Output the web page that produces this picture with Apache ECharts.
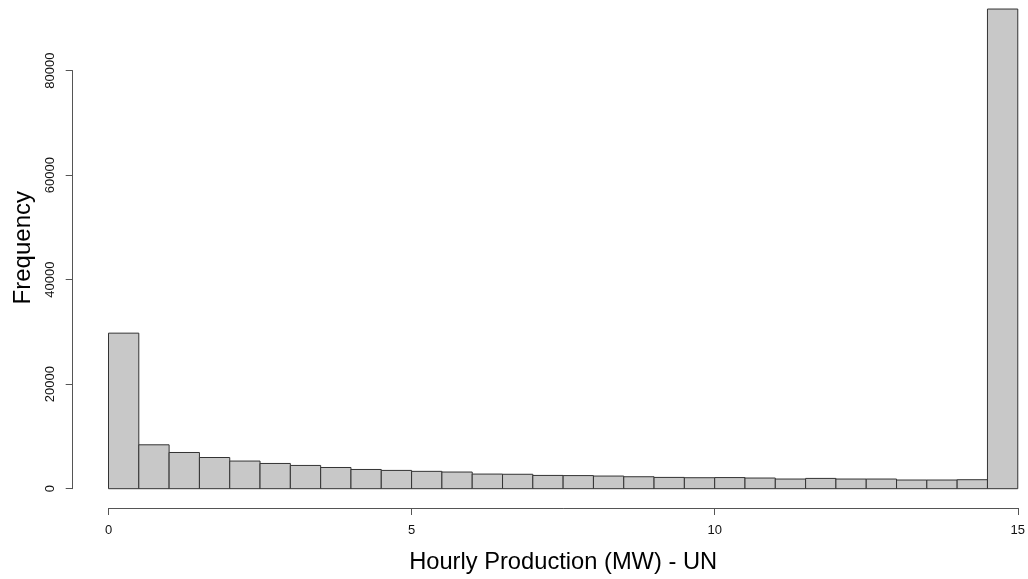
<!DOCTYPE html>
<html>
<head>
<meta charset="utf-8">
<title>Hourly Production (MW) - UN</title>
<script src="https://cdn.jsdelivr.net/npm/echarts@6/dist/echarts.min.js"></script>
<style>
  html, body { margin: 0; padding: 0; background: #ffffff; overflow: hidden; }
  #chart { width: 1028px; height: 579px; }
</style>
</head>
<body>
<div id="chart"></div>
<script>
// Histogram bin edges (MW) and counts per bin
const breaks = [0, 0.5, 1, 1.5, 2, 2.5, 3, 3.5, 4, 4.5, 5, 5.5, 6, 6.5, 7, 7.5,
                8, 8.5, 9, 9.5, 10, 10.5, 11, 11.5, 12, 12.5, 13, 13.5, 14, 14.5, 15];
const counts = [29770, 8400, 6930, 5970, 5290, 4830, 4450, 4060, 3680, 3500,
                3320, 3190, 2800, 2760, 2540, 2510, 2420, 2290, 2160, 2100,
                2130, 2040, 1850, 1970, 1850, 1850, 1660, 1660, 1720, 91800];
const xTicks = [0, 5, 10, 15];
const yTicks = [0, 20000, 40000, 60000, 80000];

const xTitle = 'Hourly Production (MW) - UN';
const yTitle = 'Frequency';

// [start, end, count] per bin for the custom rect series
const bins = counts.map((c, i) => [breaks[i], breaks[i + 1], c]);

const FONT = '"Liberation Sans", Arial, Helvetica, sans-serif';
const AXIS_COLOR = '#555555';

const chart = echarts.init(document.getElementById('chart'), null, { renderer: 'canvas' });

chart.setOption({
  animation: false,
  backgroundColor: '#ffffff',
  textStyle: { fontFamily: FONT, color: '#000000' },
  grid: { left: 108.5, right: 7.3, top: 70.7, bottom: 89, containLabel: false },
  xAxis: {
    type: 'value',
    min: xTicks[0],
    max: xTicks[xTicks.length - 1],
    interval: 5,
    offset: 19.3,
    axisLine: { show: true, onZero: false, lineStyle: { color: AXIS_COLOR, width: 1 } },
    axisTick: { show: true, inside: false, length: 7, lineStyle: { color: AXIS_COLOR, width: 1 } },
    axisLabel: {
      show: true, fontSize: 13, color: '#111111', fontFamily: FONT, margin: 16,
      formatter: v => String(v)
    },
    splitLine: { show: false },
    name: xTitle,
    nameLocation: 'middle',
    nameGap: 42,
    nameTextStyle: { fontSize: 23.7, color: '#000000', fontFamily: FONT }
  },
  yAxis: {
    type: 'value',
    min: yTicks[0],
    max: yTicks[yTicks.length - 1],
    interval: 20000,
    offset: 35.8,
    axisLine: { show: true, onZero: false, lineStyle: { color: AXIS_COLOR, width: 1 } },
    axisTick: { show: true, inside: false, length: 7, lineStyle: { color: AXIS_COLOR, width: 1 } },
    axisLabel: {
      show: true, fontSize: 13, color: '#111111', fontFamily: FONT, rotate: 90, margin: 16,
      formatter: v => String(v)
    },
    splitLine: { show: false },
    name: yTitle,
    nameLocation: 'middle',
    nameRotate: 90,
    nameGap: 37,
    nameTextStyle: { fontSize: 24, color: '#000000', fontFamily: FONT, padding: [0, 0, 0, 64] }
  },
  series: [{
    type: 'custom',
    clip: false,
    data: bins,
    encode: { x: [0, 1], y: 2 },
    renderItem: function (params, api) {
      const p0 = api.coord([api.value(0), 0]);
      const p1 = api.coord([api.value(1), api.value(2)]);
      return {
        type: 'rect',
        shape: { x: p0[0], y: p1[1], width: p1[0] - p0[0], height: p0[1] - p1[1] },
        style: { fill: '#c8c8c8', stroke: '#333333', lineWidth: 1 }
      };
    }
  }]
});
</script>
</body>
</html>
